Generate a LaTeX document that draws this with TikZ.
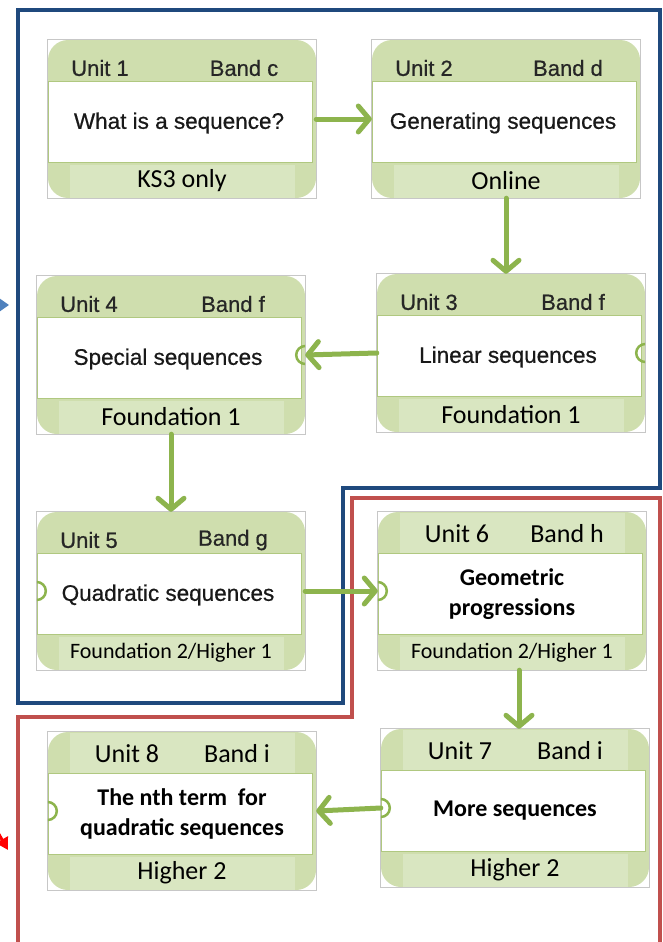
\documentclass[tikz,border=0pt]{standalone}
\usepackage{fontspec}
\newfontfamily\arialfont[FakeBold=0.6]{Liberation Sans}
\newfontfamily\califont{Carlito}
\usetikzlibrary{calc,arrows.meta}

\definecolor{cardgreen}{RGB}{207,222,174}
\definecolor{bandgreen}{RGB}{217,230,193}
\definecolor{edgegreen}{RGB}{176,200,128}
\definecolor{flowgreen}{RGB}{141,180,77}
\definecolor{boxblue}{RGB}{31,73,125}
\definecolor{boxred}{RGB}{192,80,77}
\definecolor{tipblue}{RGB}{79,129,189}

\begin{document}
\begin{tikzpicture}[x=1pt,y=-1pt,
  card/.style={fill=cardgreen,rounded corners=20pt,minimum width=268pt,minimum height=158pt,inner sep=0pt},
  frame/.style={draw=black!22,line width=0.8pt},
  panel/.style={fill=white,draw=edgegreen,line width=1pt,minimum width=264pt,minimum height=81pt,inner sep=0pt},
  band/.style={fill=bandgreen,minimum width=225pt,minimum height=33pt,inner sep=0pt},
  hdrA/.style={font=\arialfont\fontsize{22}{25}\selectfont,text=black!85},
  titleA/.style={font=\arialfont\fontsize{22.5}{26}\selectfont,text=black!90},
  hdrC/.style={font=\califont\fontsize{26}{30}\selectfont},
  titleC/.style={font=\califont\bfseries\fontsize{24}{30}\selectfont,align=center},
  footC/.style={font=\califont\fontsize{26}{30}\selectfont},
  knob/.style={flowgreen,line width=2.5pt},
  flow/.style={flowgreen,line width=5pt,line cap=round,-{Straight Barb[length=11pt,width=26pt,round]}},
  bluebox/.style={boxblue,line width=4pt},
  redbox/.style={boxred,line width=4pt}]
  \useasboundingbox (0,0) rectangle (663,942);
  \fill[white] (0,0) rectangle (663,942);

  % outer frames
  \draw[bluebox] (18,10) -- (660,10) -- (660,488) -- (343,488) -- (343,703) -- (18,703) -- cycle;
  \draw[redbox] (660,950) -- (660,498) -- (352,498) -- (352,717) -- (18,717) -- (18,950);

  % arrows coming in from the left edge
  \coordinate (blueIn) at (-20,305);
  \coordinate (blueTip) at (9,305);
  \draw[tipblue,line width=2pt,-{Triangle[length=9pt,width=12pt]}] (blueIn) -- (blueTip);
  \coordinate (redIn) at (-14,812);
  \coordinate (redTip) at (8,850);
  \draw[red,line width=3pt,-{Triangle[length=12pt,width=13pt]}] (redIn) -- (redTip);

  % units 1-5
  \foreach \n/\x/\y/\band/\title/\foot in {
      1/182/119/c/{What is a sequence?}/{KS3 only},
      2/506/119/d/{Generating sequences}/{Online},
      3/511/353/f/{Linear sequences}/{Foundation 1},
      4/171/355/f/{Special sequences}/{Foundation 1},
      5/171/591/g/{Quadratic sequences}/{\fontsize{22}{26}\selectfont Foundation 2/Higher 1}}
  {
    \node[card] (u\n) at (\x,\y) {};
    \draw[frame] (u\n.south west) rectangle (u\n.north east);
    \node[panel] (u\n w) at ($(u\n)+(-2,3)$) {};
    \node[band,footC] (u\n f) at ($(u\n)+(0,62)$) {\foot};
    \node[hdrA] (u\n u) at ($(u\n)+(-82,-51)$) {Unit \n};
    \node[hdrA] (u\n b) at ($(u\n)+(62,-51)$) {Band \band};
    \node[titleA] (u\n t) at ($(u\n)+(-3,4)$) {\title};
  }

  % units 6-8
  \foreach \n/\x/\y/\band/\title/\foot in {
      6/512/591/h/{Geometric\\progressions}/{\fontsize{22}{26}\selectfont Foundation 2/Higher 1},
      7/515/808/i/{More sequences}/{Higher 2},
      8/182/811/i/{The nth term\ \ for\\quadratic sequences}/{Higher 2}}
  {
    \node[card] (u\n) at (\x,\y) {};
    \draw[frame] (u\n.south west) rectangle (u\n.north east);
    \node[band,minimum height=41pt] (u\n top) at ($(u\n)+(0,-58)$) {};
    \node[panel] (u\n w) at ($(u\n)+(-2,3)$) {};
    \node[band,footC] (u\n f) at ($(u\n)+(0,62)$) {\foot};
    \node[hdrC] (u\n u) at ($(u\n)+(-55,-57)$) {Unit \n};
    \node[hdrC] (u\n b) at ($(u\n)+(55,-57)$) {Band \band};
    \node[titleC] (u\n t) at ($(u\n)+(0,3)$) {\title};
  }

  % connector knobs on the card edges
  \foreach \k/\s in {4/east,3/east,5/west,6/west,8/west,7/west}
  {
    \begin{scope}
      \clip (u\k.south west) rectangle (u\k.north east);
      \draw[knob] (u\k.\s) circle[radius=9pt];
    \end{scope}
  }

  % order of the units
  \draw[flow] (u1.east) -- (u2.west);
  \draw[flow] (u2.south) -- (u2.south |- u3.north);
  \draw[flow] (u3.west) -- (u4.east);
  \draw[flow] (u4.south) -- (u5.north);
  \draw[flow] (u5.east) -- (u6.west);
  \draw[flow] ([xshift=7pt]u6.south) -- ([xshift=7pt]u6.south |- u7.north);
  \draw[flow] (u7.west) -- (u8.east);
\end{tikzpicture}
\end{document}
